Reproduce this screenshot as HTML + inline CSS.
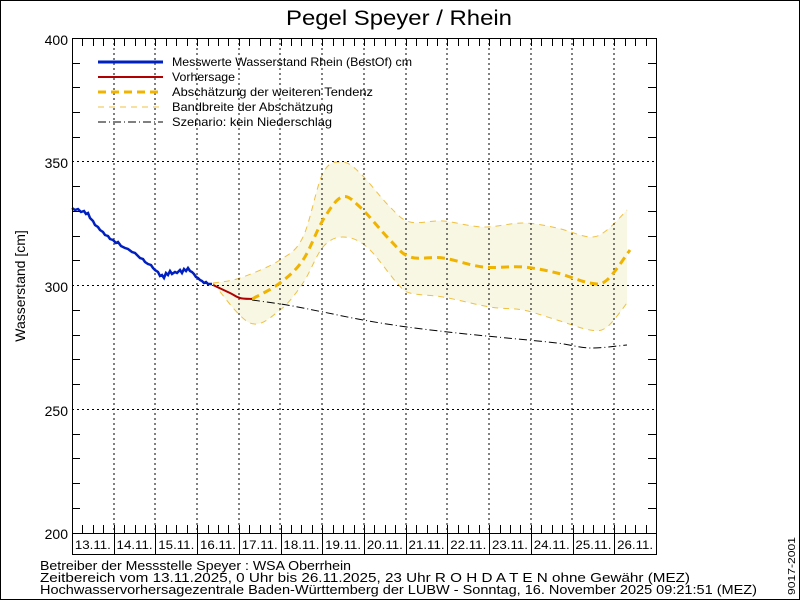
<!DOCTYPE html>
<html><head><meta charset="utf-8"><style>
html,body{margin:0;padding:0;background:#fff}
svg{display:block}
text{font-family:"Liberation Sans",sans-serif}
</style></head><body>
<svg width="800" height="600" xmlns="http://www.w3.org/2000/svg">
<rect x="0.5" y="0.5" width="799" height="599" fill="#fff" stroke="#000"/>
<text x="286" y="25" font-size="21" textLength="226" lengthAdjust="spacingAndGlyphs">Pegel Speyer / Rhein</text>
<path id="band" fill="#f7f7e4"/>
<g fill="none" stroke="#f0c040" stroke-width="1" stroke-dasharray="6,5">
<path class="sm" data-p="213,283 240,278 280,260 303,237 323,173 342,162 360,173 390,207 410,222 443,221 483,227 523,223 557,228 590,237 607,230 627,210"/>
<path class="sm" data-p="213,283 250,323 280,310 303,283 323,247 343,237 367,247 397,283 410,293 443,297 490,307 523,310 557,320 590,330 607,327 627,303"/>
</g>
<g stroke="#000" stroke-width="1" stroke-dasharray="2,3">
<line x1="72" y1="161.5" x2="656" y2="161.5"/><line x1="72" y1="285.5" x2="656" y2="285.5"/><line x1="72" y1="409.5" x2="656" y2="409.5"/>
<line x1="114" y1="38" x2="114" y2="533"/><line x1="155" y1="38" x2="155" y2="533"/><line x1="197" y1="38" x2="197" y2="533"/><line x1="239" y1="38" x2="239" y2="533"/><line x1="280" y1="38" x2="280" y2="533"/><line x1="322" y1="38" x2="322" y2="533"/><line x1="364" y1="38" x2="364" y2="533"/><line x1="406" y1="38" x2="406" y2="533"/><line x1="447" y1="38" x2="447" y2="533"/><line x1="489" y1="38" x2="489" y2="533"/><line x1="531" y1="38" x2="531" y2="533"/><line x1="572" y1="38" x2="572" y2="533"/><line x1="614" y1="38" x2="614" y2="533"/>
</g>
<path class="sm" data-p="252,300 287,305 323,312 363,320 407,327 457,333 507,338 557,343 590,348 627,345" fill="none" stroke="#000" stroke-width="1" stroke-dasharray="8,3,1,3"/>
<path class="sm" data-p="252,299 280,283 303,260 323,220 342,197 360,207 390,240 410,257 443,258 483,267 523,267 557,273 590,283 607,280 630,250" fill="none" stroke="#f0b400" stroke-width="3" stroke-dasharray="8,5"/>
<path class="sm" data-p="213,285 230,293 240,298 252,299" fill="none" stroke="#b00000" stroke-width="2"/>
<polyline points="72,208 75,210 78,209 81,212 84,211 86,214 88,213 90,218 93,221 95,225 98,227 100,230 103,232 105,235 108,236 110,239 113,240 116,243 118,242 121,246 125,248 128,249 132,252 135,253 138,256 140,258 143,259 145,262 148,264 151,265 153,268 155,270 158,272 160,276 162,275 164,278 166,273 168,275 170,271 172,274 175,272 177,273 180,270 182,273 184,269 186,271 188,268 190,271 192,272 194,274 196,277 198,278 200,280 202,281 204,283 206,282 208,284 212,284" fill="none" stroke="#0020c0" stroke-width="2.5"/>
<rect x="72.5" y="38.5" width="584" height="495" fill="none" stroke="#000"/>
<g stroke="#000">
<path d="M72,63.5h8M72,87.5h8M72,112.5h8M72,137.5h8M72,186.5h8M72,211.5h8M72,236.5h8M72,260.5h8M72,310.5h8M72,335.5h8M72,359.5h8M72,384.5h8M72,434.5h8M72,458.5h8M72,483.5h8M72,508.5h8"/>
<path d="M656,63.5h-8M656,87.5h-8M656,112.5h-8M656,137.5h-8M656,186.5h-8M656,211.5h-8M656,236.5h-8M656,260.5h-8M656,310.5h-8M656,335.5h-8M656,359.5h-8M656,384.5h-8M656,434.5h-8M656,458.5h-8M656,483.5h-8M656,508.5h-8"/>
</g>
<g id="tk" stroke="#000"></g>
<rect x="72.5" y="533.5" width="584" height="21" fill="none" stroke="#000"/>
<g font-size="14" text-anchor="end">
<text x="68" y="45">400</text><text x="68" y="168">350</text><text x="68" y="292">300</text><text x="68" y="416">250</text><text x="68" y="539">200</text>
</g>
<text transform="translate(25,286) rotate(-90)" font-size="14" text-anchor="middle">Wasserstand [cm]</text>
<g font-size="12" text-anchor="middle" id="dl"></g>
<line x1="98" y1="62" x2="163" y2="62" stroke="#0020c0" stroke-width="3"/>
<line x1="98" y1="77" x2="163" y2="77" stroke="#b00000" stroke-width="2"/>
<line x1="98" y1="92" x2="163" y2="92" stroke="#f0b400" stroke-width="3" stroke-dasharray="8,5"/>
<line x1="98" y1="107" x2="163" y2="107" stroke="#f0c040" stroke-dasharray="6,5"/>
<line x1="98" y1="122" x2="163" y2="122" stroke="#000" stroke-dasharray="8,3,1,3"/>
<g font-size="12" lengthAdjust="spacingAndGlyphs">
<text x="172" y="66" textLength="240" lengthAdjust="spacingAndGlyphs">Messwerte Wasserstand Rhein (BestOf)   cm</text>
<text x="172" y="81" textLength="63" lengthAdjust="spacingAndGlyphs">Vorhersage</text>
<text x="172" y="96" textLength="201" lengthAdjust="spacingAndGlyphs">Abschätzung der weiteren Tendenz</text>
<text x="172" y="111" textLength="161" lengthAdjust="spacingAndGlyphs">Bandbreite der Abschätzung</text>
<text x="172" y="126" textLength="160" lengthAdjust="spacingAndGlyphs">Szenario: kein Niederschlag</text>
</g>
<g font-size="13">
<text x="40" y="570" textLength="311" lengthAdjust="spacingAndGlyphs">Betreiber der Messstelle Speyer : WSA Oberrhein</text>
<text x="40" y="582" textLength="650" lengthAdjust="spacingAndGlyphs">Zeitbereich vom 13.11.2025, 0 Uhr bis 26.11.2025, 23 Uhr   R O H D A T E N ohne Gewähr (MEZ)</text>
<text x="40" y="594" textLength="717" lengthAdjust="spacingAndGlyphs">Hochwasservorhersagezentrale Baden-Württemberg der LUBW - Sonntag, 16. November 2025 09:21:51 (MEZ)</text>
</g>
<text transform="translate(795,595) rotate(-90)" font-size="10" textLength="58" lengthAdjust="spacingAndGlyphs">9017-2001</text>
</svg>
<script>
var ns="http://www.w3.org/2000/svg",tk=document.getElementById("tk"),dl=document.getElementById("dl");
var w=584/14;
for(var i=0;i<14;i++){
 for(var j=0;j<4;j++){var x=Math.round(72+i*w+j*w/4)+0.5;
  ["M"+x+",38v8","M"+x+",533v-8"].forEach(function(d){var p=document.createElementNS(ns,"path");p.setAttribute("d",d);tk.appendChild(p);});}
 var x0=Math.round(72+(i+1)*w)+0.5;
 var l=document.createElementNS(ns,"path");l.setAttribute("d","M"+x0+",533v21");tk.appendChild(l);
 var t=document.createElementNS(ns,"text");t.setAttribute("x",72+i*w+w/2);t.setAttribute("y",549);
 t.setAttribute("textLength","36");t.setAttribute("lengthAdjust","spacingAndGlyphs");
 t.textContent=(13+i)+".11.";dl.appendChild(t);
}
function pts(s){return s.trim().split(/\s+/).map(function(q){return q.split(",").map(Number);});}
function cr(p,move){var d=move?"M"+p[0][0]+","+p[0][1]:"L"+p[0][0]+","+p[0][1];
 for(var i=0;i<p.length-1;i++){var a=p[i-1]||p[i],b=p[i],c=p[i+1],e=p[i+2]||c;
  d+="C"+(b[0]+(c[0]-a[0])/6)+","+(b[1]+(c[1]-a[1])/6)+" "+(c[0]-(e[0]-b[0])/6)+","+(c[1]-(e[1]-b[1])/6)+" "+c[0]+","+c[1];}
 return d;}
var sm=document.querySelectorAll(".sm"),bp=[];
sm.forEach(function(el){var p=pts(el.getAttribute("data-p"));el.setAttribute("d",cr(p,true));bp.push(p);});
document.getElementById("band").setAttribute("d",cr(bp[0],true)+cr(bp[1].slice().reverse(),false)+"Z");
</script>
</body></html>
